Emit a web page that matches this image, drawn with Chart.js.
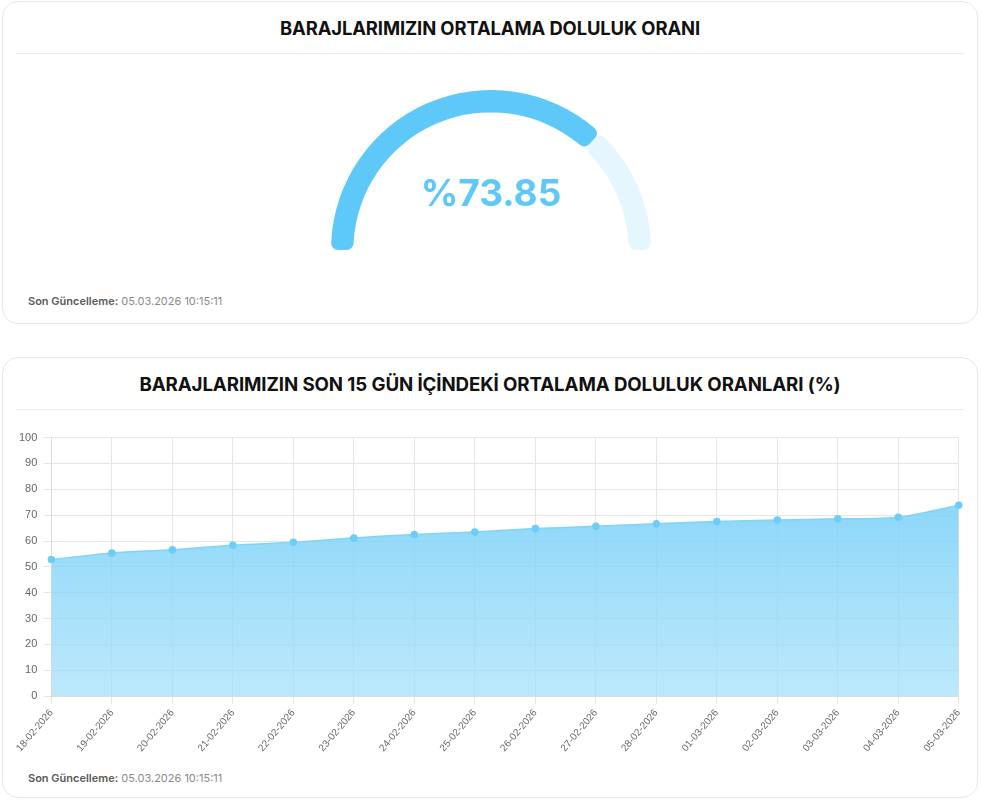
<!DOCTYPE html>
<html lang="tr">
<head>
<meta charset="utf-8">
<title>Baraj Doluluk Oranları</title>
<script src="https://cdn.jsdelivr.net/npm/chart.js@4.4.1/dist/chart.umd.min.js"></script>
<style>
  html, body { margin: 0; padding: 0; background: #fff; }
  body { width: 982px; height: 800px; position: relative; font-family: Inter, "Noto Sans", sans-serif; overflow: hidden; }
  .card { position: absolute; left: 2px; width: 976px; border: 1px solid #e6e8ea; border-radius: 16px; background: #fff; box-sizing: border-box; }
  .card h2 { margin: 0; position: absolute; left: 0; right: 0; text-align: center; font-weight: 700; color: #111; letter-spacing: -0.1px; }
  .card .sep { position: absolute; left: 13px; right: 13px; height: 1px; background: #ececec; }
  .updated { position: absolute; left: 25px; font-size: 11px; color: #8a8a8a; }
  .updated b { color: #5a5a5a; font-weight: 600; }
  #gaugeBox { position: absolute; left: 331px; top: 90px; width: 320px; height: 160px; }
  #gaugeText { position: absolute; left: 0; right: 0; top: 170px; text-align: center; font-size: 37px; font-weight: 700; color: #5ec9f8; }
  #lineBox { position: absolute; left: 13px; top: 425px; width: 958px; height: 332px; }
</style>
</head>
<body>
<div class="card" style="top:1px;height:323px;">
  <h2 style="top:15px;font-size:18.4px;">BARAJLARIMIZIN ORTALAMA DOLULUK ORANI</h2>
  <div class="sep" style="top:51px;"></div>
  <div class="updated" style="top:292px;"><b>Son Güncelleme:</b> 05.03.2026 10:15:11</div>
</div>
<div class="card" style="top:357px;height:441px;">
  <h2 style="top:15px;font-size:18.7px;">BARAJLARIMIZIN SON 15 GÜN İÇİNDEKİ ORTALAMA DOLULUK ORANLARI (%)</h2>
  <div class="sep" style="top:51px;"></div>
  <div class="updated" style="top:413px;"><b>Son Güncelleme:</b> 05.03.2026 10:15:11</div>
</div>
<div id="gaugeBox"><canvas id="gauge"></canvas></div>
<div id="gaugeText">%73.85</div>
<div id="lineBox"><canvas id="line"></canvas></div>

<script>
// current average fill ratio (gauge)
const currentRatio = 73.85;

// last days, daily average fill ratio (%)
const days = [
  "18-02-2026", "19-02-2026", "20-02-2026", "21-02-2026", "22-02-2026", "23-02-2026",
  "24-02-2026", "25-02-2026", "26-02-2026", "27-02-2026", "28-02-2026", "01-03-2026",
  "02-03-2026", "03-03-2026", "04-03-2026", "05-03-2026"
];
const ratios = [52.8, 55.4, 56.6, 58.4, 59.5, 61.2, 62.5, 63.5, 64.8, 65.7, 66.7, 67.5, 68.1, 68.6, 69.2, 73.85];
const yTicks = [0, 10, 20, 30, 40, 50, 60, 70, 80, 90, 100];

new Chart(document.getElementById("gauge"), {
  type: "doughnut",
  data: {
    datasets: [{
      data: [currentRatio, 100 - currentRatio],
      backgroundColor: ["#5ec9f8", "#e5f6fe"],
      borderWidth: 0,
      borderRadius: 7,
      hoverOffset: 0
    }]
  },
  options: {
    responsive: true,
    maintainAspectRatio: false,
    animation: false,
    circumference: 180,
    rotation: -90,
    cutout: "86%",
    layout: { padding: 0 },
    plugins: { legend: { display: false }, tooltip: { enabled: false } }
  }
});

const ctx = document.getElementById("line").getContext("2d");
const grad = ctx.createLinearGradient(0, 80, 0, 270);
grad.addColorStop(0, "rgba(120, 208, 247, 0.85)");
grad.addColorStop(1, "rgba(160, 222, 250, 0.7)");

new Chart(ctx, {
  type: "line",
  data: {
    labels: days,
    datasets: [{
      label: "Doluluk (%)",
      data: ratios,
      fill: true,
      backgroundColor: grad,
      borderColor: "#82d3f7",
      borderWidth: 1.5,
      pointBackgroundColor: "#6ccdf6",
      pointBorderColor: "#6ccdf6",
      pointRadius: 3,
      tension: 0.3
    }]
  },
  options: {
    responsive: true,
    maintainAspectRatio: false,
    animation: false,
    layout: { padding: { top: 4, right: 0 } },
    plugins: { legend: { display: false }, tooltip: { enabled: false } },
    scales: {
      y: {
        min: 0,
        max: 100,
        afterBuildTicks: (axis) => { axis.ticks = yTicks.map((v) => ({ value: v })); },
        ticks: { color: "#666", font: { size: 11 }, padding: 6 },
        grid: { color: "#e6e6e6" },
        border: { color: "#dcdcdc" }
      },
      x: {
        ticks: { color: "#666", font: { size: 10 }, minRotation: 50, maxRotation: 50, autoSkip: false },
        grid: { color: "#e6e6e6" },
        border: { color: "#dcdcdc" }
      }
    }
  }
});
</script>
</body>
</html>
